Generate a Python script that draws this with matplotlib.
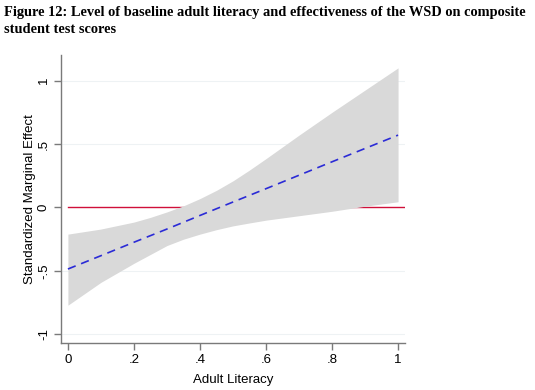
import matplotlib
matplotlib.use("Agg")
import matplotlib.pyplot as plt

# values
literacy = [0.0, 0.1, 0.2, 0.3, 0.4, 0.5, 0.6, 0.7, 0.8, 0.9, 1.0]
effect = [-0.485, -0.38, -0.274, -0.17, -0.063, 0.043, 0.148, 0.254, 0.36, 0.465, 0.57]

band_x = [0.0, 0.1, 0.2, 0.25, 0.3, 0.35, 0.4, 0.45, 0.5, 0.55, 0.6, 0.7, 0.8, 0.9, 1.0]
upper = [-0.21, -0.17, -0.115, -0.078, -0.035, 0.013, 0.07, 0.135, 0.21, 0.295, 0.385,
         0.57, 0.75, 0.925, 1.10]
lower = [-0.77, -0.59, -0.44, -0.37, -0.30, -0.25, -0.21, -0.175, -0.145, -0.122, -0.10,
         -0.065, -0.03, 0.01, 0.045]

xticks = [0, 0.2, 0.4, 0.6, 0.8, 1.0]
xticklabels = ["0", ".2", ".4", ".6", ".8", "1"]
yticks = [-1, -0.5, 0, 0.5, 1]
yticklabels = ["-1", "-.5", "0", ".5", "1"]

title = ("Figure 12: Level of baseline adult literacy and effectiveness of the WSD on composite\n"
         "student test scores")

plt.rcParams['font.family'] = ['Liberation Sans', 'DejaVu Sans']

fig = plt.figure(figsize=(5.35, 3.9), dpi=100)
ax = fig.add_axes([0.114, 0.1205, 0.643, 0.738])

for y in [-1, -0.5, 0.5, 1]:
    ax.axhline(y, color='#eef2f4', lw=0.8, zorder=0)
ax.plot([0, 1.021], [0, 0], color='#d0103a', lw=1.0, zorder=1)
ax.fill_between(band_x, lower, upper, color='#d9d9d9', lw=0, zorder=2)
ax.plot(literacy, effect, color='#2b2bd6', lw=1.2, dashes=(5, 3.5), zorder=3)

ax.set_xlim(-0.021, 1.021)
ax.set_ylim(-1.068, 1.2)
ax.set_xticks(xticks)
ax.set_xticklabels(xticklabels)
ax.set_yticks(yticks)
ax.set_yticklabels(yticklabels, rotation=90, va='center')

for side in ['top', 'right']:
    ax.spines[side].set_visible(False)
for side in ['left', 'bottom']:
    ax.spines[side].set_color('#7a7a7a')
    ax.spines[side].set_linewidth(1.0)
ax.tick_params(axis='both', colors='#7a7a7a', length=5, width=1.0, labelsize=9.5,
               labelcolor='black', pad=3)

ax.set_xlabel("Adult Literacy", fontsize=9.5, labelpad=6)
ax.set_ylabel("Standardized Marginal Effect", fontsize=9.5, labelpad=1)

fig.text(0.008, 0.985, title, fontsize=10.4, fontweight='bold',
         family=['Liberation Serif', 'DejaVu Serif'], va='top', ha='left', linespacing=1.4)

fig.savefig("out.png", dpi=100)
